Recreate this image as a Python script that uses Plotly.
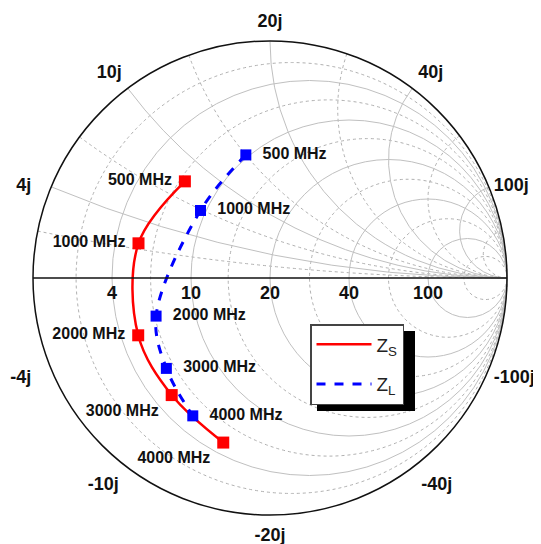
import plotly.graph_objects as go

# ---------------- data (impedances in ohms, Z0 = 20 ohm) ----------------
Z0 = 20.0
freq_labels = ["500 MHz", "1000 MHz", "2000 MHz", "3000 MHz", "4000 MHz"]
zs_real = [7.0, 5.5, 5.1, 5.2, 5.0]
zs_imag = [8.1, 2.4, -3.9, -8.8, -14.5]
zl_real = [9.7, 9.5, 6.7, 6.0, 5.3]
zl_imag = [14.0, 6.5, -2.9, -6.9, -11.1]

major_ticks = [0.2, 0.5, 1, 2, 5]          # normalized grid values
minor_ticks = [0.1, 0.33, 0.7, 1.4, 3, 10]  # dotted grid values
real_tick_labels = ["4", "10", "20", "40", "100"]
imag_tick_labels = ["4j", "10j", "20j", "40j", "100j"]
imag_neg_tick_labels = ["-4j", "-10j", "-20j", "-40j", "-100j"]

# label placement styles
zs_textpos = ["middle left", "middle left", "middle left", "bottom left", "bottom left"]
zl_textpos = ["middle right"] * 5
imag_pos_textpos = ["middle left", "top left", "top center", "top right", "middle right"]
imag_neg_textpos = ["bottom left", "bottom left", "bottom center", "bottom right", "bottom right"]
imag_pos_pad = [(0, 4), (0, 0), (0, 0), (0, 0), (1, 0)]   # (leading, trailing) nbsp
imag_neg_pad = [(0, 4), (0, 0), (0, 0), (0, 0), (1, 0)]
imag_pos_offset = [0, 8, 14.4, 8, 0]      # invisible marker sizes -> text offset
imag_neg_offset = [0, 12.8, 17.6, 12.8, 0]

RED = "#ff0000"
BLUE = "#0000ff"
FONT = "Liberation Sans, Arial, sans-serif"
NB = "\u00a0"
OFF = 8  # page body margin


def px_x(p):
    return (p - OFF) / 541


def px_y(p):
    return 1 - (p - OFF) / 544


zs_r = [v / Z0 for v in zs_real]
zs_i = [v / Z0 for v in zs_imag]
zl_r = [v / Z0 for v in zl_real]
zl_i = [v / Z0 for v in zl_imag]

fig = go.Figure()

# anchor trace for the dotted minor-grid subplot
fig.add_trace(go.Scattersmith(real=[None], imag=[None], subplot="smith",
                              mode="markers", showlegend=False, hoverinfo="skip"))

fig.add_trace(go.Scattersmith(
    real=zs_r, imag=zs_i, mode="lines", subplot="smith2",
    name="Z<sub>S</sub>", legendgroup="s",
    line=dict(color=RED, width=2.5, shape="spline"),
))
fig.add_trace(go.Scattersmith(
    real=zl_r, imag=zl_i, mode="lines", subplot="smith2",
    name="Z<sub>L</sub>", legendgroup="l",
    line=dict(color=BLUE, width=3, dash="dash", shape="spline"),
))
fig.add_trace(go.Scattersmith(
    real=zs_r, imag=zs_i, mode="markers+text", subplot="smith2",
    showlegend=False, text=[l + NB for l in freq_labels], textposition=zs_textpos,
    marker=dict(symbol="square", size=12, color=RED),
    textfont=dict(family=FONT, size=16, color="#111111", weight="bold"),
    cliponaxis=False,
))
fig.add_trace(go.Scattersmith(
    real=zl_r, imag=zl_i, mode="markers+text", subplot="smith2",
    showlegend=False, text=[NB * 2 + l for l in freq_labels], textposition=zl_textpos,
    marker=dict(symbol="square", size=11, color=BLUE),
    textfont=dict(family=FONT, size=16, color="#111111", weight="bold"),
    cliponaxis=False,
))

# axis tick labels drawn through the smith scale (invisible markers set the offset)
fig.add_trace(go.Scattersmith(
    real=major_ticks, imag=[0] * len(major_ticks), mode="markers+text", subplot="smith2",
    showlegend=False, hoverinfo="skip", text=real_tick_labels,
    textposition="bottom center", cliponaxis=False,
    marker=dict(size=11, opacity=0),
    textfont=dict(family=FONT, size=18, color="#111111", weight="bold"),
))
imag_text = [NB * a + l + NB * b for l, (a, b) in
             zip(imag_tick_labels + imag_neg_tick_labels, imag_pos_pad + imag_neg_pad)]
fig.add_trace(go.Scattersmith(
    real=[0] * (2 * len(major_ticks)),
    imag=major_ticks + [-v for v in major_ticks],
    mode="markers+text", subplot="smith2", showlegend=False, hoverinfo="skip",
    text=imag_text,
    textposition=imag_pos_textpos + imag_neg_textpos, cliponaxis=False,
    marker=dict(size=imag_pos_offset + imag_neg_offset, opacity=0),
    textfont=dict(family=FONT, size=18, color="#111111", weight="bold"),
))

dom_x = [px_x(33), px_x(507)]
dom_y = [px_y(515), px_y(41)]

fig.update_layout(
    width=541, height=544,
    margin=dict(l=0, r=0, t=0, b=0),
    paper_bgcolor="white",
    plot_bgcolor="white",
    font=dict(family=FONT, color="#111111"),
    smith=dict(
        domain=dict(x=dom_x, y=dom_y),
        bgcolor="white",
        realaxis=dict(tickvals=minor_ticks, showticklabels=False,
                      gridcolor="#b0b0b0", griddash="dot", gridwidth=1,
                      showline=False, ticks=""),
        imaginaryaxis=dict(tickvals=minor_ticks, showticklabels=False,
                           gridcolor="#b0b0b0", griddash="dot", gridwidth=1,
                           showline=False, ticks=""),
    ),
    smith2=dict(
        domain=dict(x=dom_x, y=dom_y),
        bgcolor="rgba(0,0,0,0)",
        realaxis=dict(tickvals=major_ticks, showticklabels=False,
                      gridcolor="#c0c0c0", gridwidth=1.2,
                      linecolor="#111111", linewidth=1.5, ticks=""),
        imaginaryaxis=dict(tickvals=major_ticks, showticklabels=False,
                           gridcolor="#c0c0c0", gridwidth=1.2,
                           linecolor="#111111", linewidth=1.5, ticks=""),
    ),
    legend=dict(
        x=px_x(310), y=px_y(324), xanchor="left", yanchor="top",
        bgcolor="white", bordercolor="#444444", borderwidth=1.5,
        tracegroupgap=12, itemwidth=55,
        font=dict(family=FONT, size=19, color="#222222"),
    ),
    shapes=[dict(type="rect", xref="paper", yref="paper",
                 x0=px_x(317), x1=px_x(415),
                 y0=px_y(411), y1=px_y(331),
                 fillcolor="black", line=dict(width=0), layer="above")],
)

fig.write_html("out.html")
